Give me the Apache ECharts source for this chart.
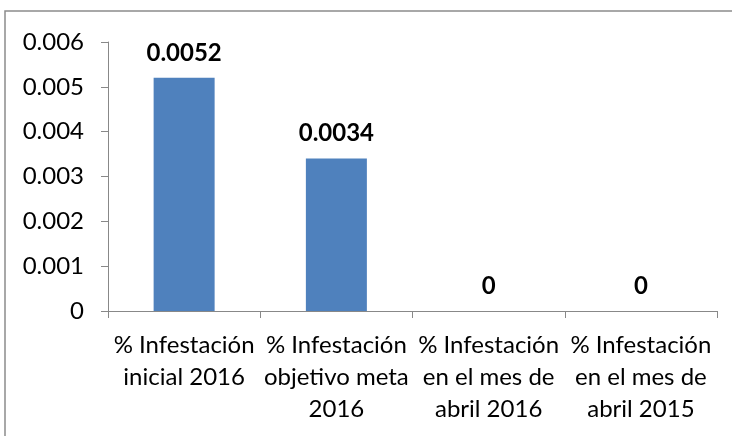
<!DOCTYPE html>
<html>
<head>
<meta charset="utf-8">
<script src="https://cdn.jsdelivr.net/npm/echarts@6/dist/echarts.min.js"></script>
<style>
html,body{margin:0;padding:0;background:#fff;}
#c{width:732px;height:436px;}
</style>
</head>
<body>
<div id="c"></div>
<script>
var categories = [
  '% Infestación\ninicial 2016',
  '% Infestación\nobjetivo meta\n2016',
  '% Infestación\nen el mes de\nabril 2016',
  '% Infestación\nen el mes de\nabril 2015'
];
var values = [0.0052, 0.0034, 0, 0];
var yTicks = { min: 0, max: 0.006, interval: 0.001 };

var FONT = 'Lato';
var chart = echarts.init(document.getElementById('c'));
chart.setOption({
  animation: false,
  backgroundColor: '#fff',
  graphic: [{
    type: 'rect',
    shape: { x: 5, y: 11, width: 760, height: 460 },
    style: { fill: 'none', stroke: '#8c8c8c', lineWidth: 1.5 },
    silent: true
  }],
  grid: { left: 108, right: 15, top: 42, bottom: 125, containLabel: false },
  xAxis: {
    type: 'category',
    data: categories,
    axisLine: { lineStyle: { color: '#888', width: 1 } },
    axisTick: { show: true, alignWithLabel: false, length: 7, lineStyle: { color: '#888' } },
    axisLabel: {
      interval: 0, margin: 18, color: '#000', fontFamily: FONT, fontSize: 24,
      lineHeight: 32, align: 'center'
    }
  },
  yAxis: {
    type: 'value',
    min: yTicks.min, max: yTicks.max, interval: yTicks.interval,
    splitLine: { show: false },
    axisLine: { show: true, lineStyle: { color: '#888', width: 1 } },
    axisTick: { show: true, length: 7, lineStyle: { color: '#888' } },
    axisLabel: { margin: 24, color: '#000', fontFamily: FONT, fontSize: 24 }
  },
  series: [{
    type: 'bar',
    data: values,
    barWidth: 61,
    itemStyle: { color: '#4F81BD' },
    label: {
      show: true, position: 'top', distance: 13,
      color: '#000', fontFamily: FONT, fontSize: 24, fontWeight: 'bold'
    }
  }]
});
</script>
</body>
</html>
